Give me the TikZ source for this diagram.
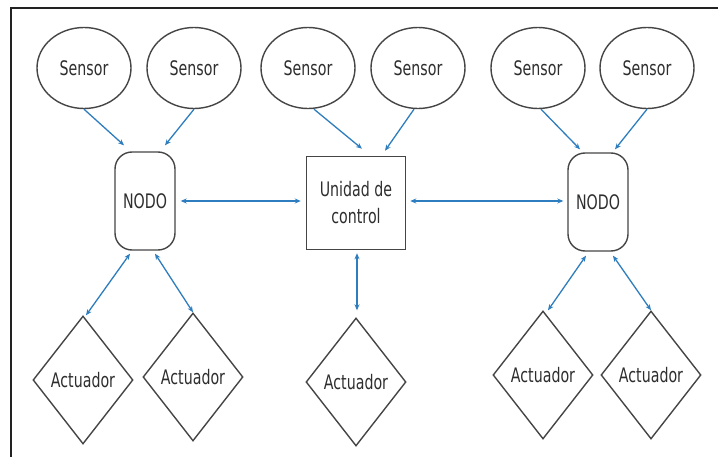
\documentclass[tikz,border=0pt]{standalone}
\usepackage{fontspec}
\setmainfont{DejaVu Sans}[FakeStretch=0.71]
\usetikzlibrary{shapes.geometric,arrows.meta,calc}
\definecolor{shapeline}{HTML}{454545}
\definecolor{arrowblue}{HTML}{2E7DBE}
\definecolor{textgray}{HTML}{2E2E2E}
\definecolor{framec}{HTML}{222222}
\begin{document}
\begin{tikzpicture}[x=1pt,y=-1pt,
  every node/.style={font=\fontsize{20}{27}\selectfont, text=textgray, inner sep=0pt},
  sensorbox/.style={ellipse, draw=shapeline, line width=1.4pt, minimum width=94pt, minimum height=81pt},
  nodobox/.style={rectangle, rounded corners=17pt, draw=shapeline, line width=1.4pt, minimum width=60pt, minimum height=98pt},
  ucbox/.style={rectangle, draw=shapeline, line width=1.5pt, minimum width=99pt, minimum height=93pt, align=center},
  actbox/.style={diamond, draw=shapeline, line width=1.4pt, minimum width=100pt, minimum height=128pt},
  conn/.style={draw=arrowblue, line width=1.3pt, -{Stealth[length=6pt,width=5pt]}},
  bconn/.style={draw=arrowblue, line width=1.3pt, {Stealth[length=6pt,width=5pt]}-{Stealth[length=6pt,width=5pt]}}
]
\useasboundingbox (0,0) rectangle (718,457);
\draw[framec, line width=1.2pt] (11,457) -- (11,8) -- (718,8);

\node[sensorbox] (s1) at (84,68) {Sensor};
\node[sensorbox] (s2) at (194,68) {Sensor};
\node[sensorbox] (s3) at (308,68) {Sensor};
\node[sensorbox] (s4) at (418,68) {Sensor};
\node[sensorbox] (s5) at (538,68) {Sensor};
\node[sensorbox] (s6) at (647,68) {Sensor};

\node[nodobox] (n1) at (145,201) {NODO};
\node[ucbox] (uc) at (356,203) {Unidad de\\control};
\node[nodobox] (n2) at (598,202) {NODO};

\node[actbox] (a1) at (83,380) {Actuador};
\node[actbox] (a2) at (193,377) {Actuador};
\node[actbox] (a3) at (356,382) {Actuador};
\node[actbox] (a4) at (543,375) {Actuador};
\node[actbox] (a5) at (651,375) {Actuador};

\draw[conn] (s1.south) -- ($(n1.north)+(-21,-6)$);
\draw[conn] (s2.south) -- ($(n1.north)+(20,-6)$);
\draw[conn] ($(s3.south)+(6,0)$) -- ($(uc.north)+(6,-7)$);
\draw[conn] ($(s4.south)+(-4,0)$) -- ($(uc.north)+(29,-5)$);
\draw[conn] ($(s5.south)+(3,0)$) -- ($(n2.north)+(-18,-3)$);
\draw[conn] (s6.south) -- ($(n2.north)+(17,-3)$);

\draw[bconn] ($(n1.east)+(5,0)$) -- ($(uc.west)+(-5,-2)$);
\draw[bconn] ($(uc.east)+(4,-2)$) -- ($(n2.west)+(-4,-1)$);

\draw[bconn] ($(n1.south)+(-15,3)$) -- ($(a1.north)+(3,0)$);
\draw[bconn] ($(n1.south)+(10,3)$) -- ($(a2.north)+(0,0)$);
\draw[bconn] ($(uc.south)+(1,3)$) -- ($(a3.north)+(1,-7)$);
\draw[bconn] ($(n2.south)+(-12,4)$) -- ($(a4.north)+(5,0)$);
\draw[bconn] ($(n2.south)+(15,4)$) -- ($(a5.north)+(0,0)$);
\end{tikzpicture}
\end{document}
